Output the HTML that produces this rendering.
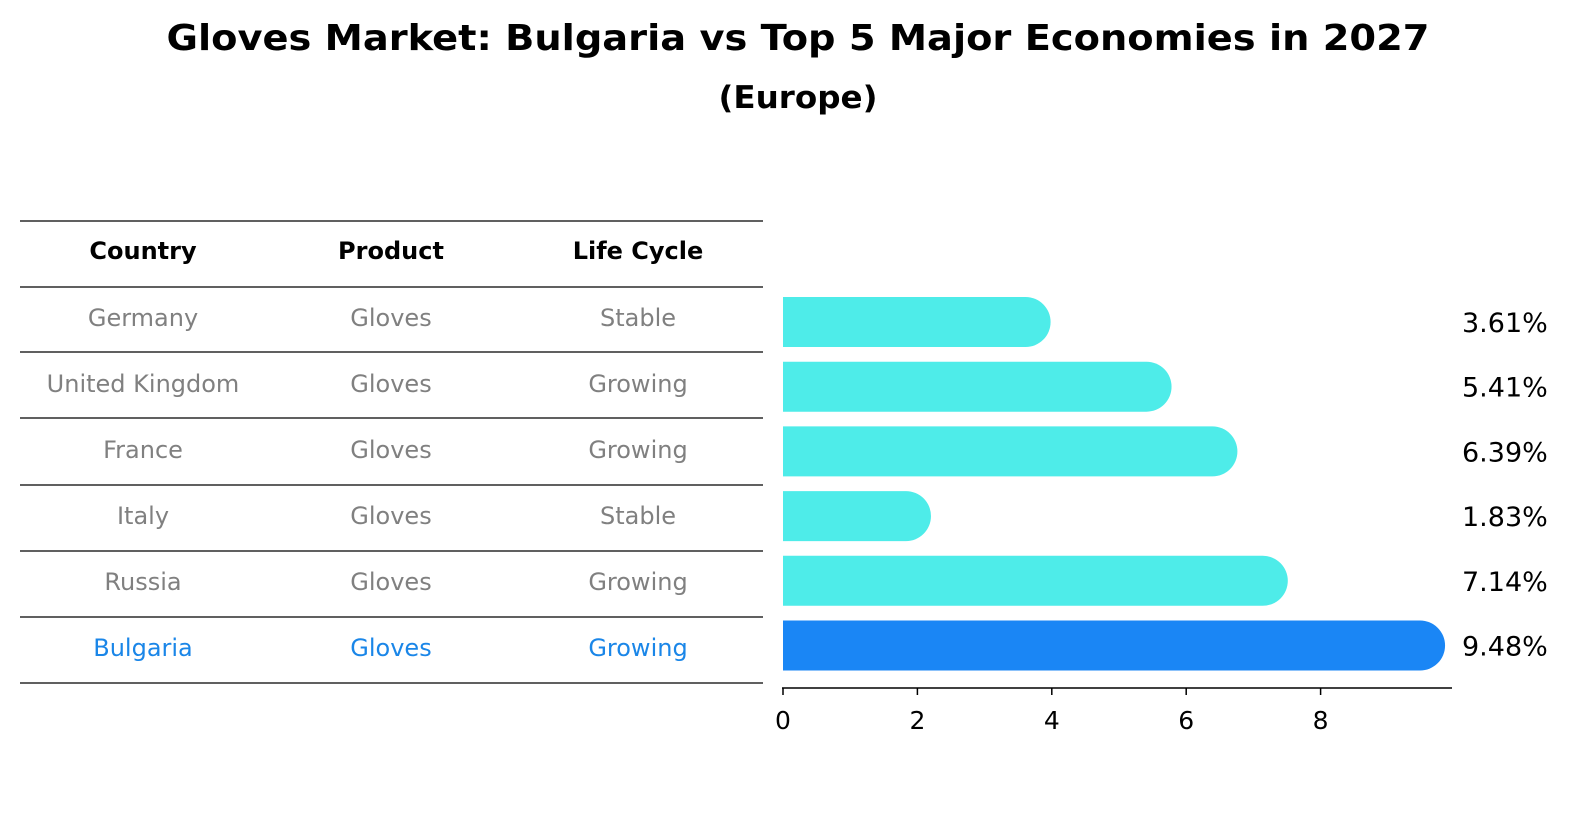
<!DOCTYPE html>
<html><head><meta charset="utf-8"><style>
body{margin:0;background:#fff;font-family:"DejaVu Sans","Liberation Sans",sans-serif;}
svg text{font-family:"DejaVu Sans","Liberation Sans",sans-serif;}
</style></head><body>
<svg id="c" width="1586" height="823" xmlns="http://www.w3.org/2000/svg">
<text x="798" y="50" text-anchor="middle" font-size="36" font-weight="bold" textLength="1263" lengthAdjust="spacingAndGlyphs">Gloves Market: Bulgaria vs Top 5 Major Economies in 2027</text>
<text x="798" y="108" text-anchor="middle" font-size="31" font-weight="bold" textLength="159" lengthAdjust="spacingAndGlyphs">(Europe)</text>
<g id="tbl"></g>
<g id="bars"></g>
</svg>
<script>
const countries=["Germany","United Kingdom","France","Italy","Russia","Bulgaria"];
const products=["Gloves","Gloves","Gloves","Gloves","Gloves","Gloves"];
const lifeCycles=["Stable","Growing","Growing","Stable","Growing","Growing"];
const values=[3.61,5.41,6.39,1.83,7.14,9.48];
const valueLabels=["3.61%","5.41%","6.39%","1.83%","7.14%","9.48%"];
const xTicks=[0,2,4,6,8];
const NS="http://www.w3.org/2000/svg";
function mk(t,a,p){const e=document.createElementNS(NS,t);for(const k in a)e.setAttribute(k,a[k]);p.appendChild(e);return e;}
const tbl=document.getElementById('tbl'),bars=document.getElementById('bars');
const x=v=>783+v*67.2;
const rowY=i=>322+i*64.7;
const colX=[143,391,638];
const hdr=["Country","Product","Life Cycle"];
hdr.forEach((h,j)=>{const t=mk('text',{x:colX[j],y:259,'text-anchor':'middle','font-size':24,'font-weight':'bold'},tbl);t.textContent=h;

});
const lines=[221,287,352,418,485,551,617,683];
lines.forEach((ly,i)=>{const l=mk('line',{x1:20,x2:763,y1:ly,y2:ly,stroke:'#000','stroke-width':1.2},tbl);

});
countries.forEach((c,i)=>{
 const col=i===countries.length-1?'#1a86e8':'#808080';
 const cy=[318,384,450,516,582,648][i];
 [c,products[i],lifeCycles[i]].forEach((s,j)=>{const t=mk('text',{x:colX[j],y:cy+8,'text-anchor':'middle','font-size':24,fill:col},tbl);t.textContent=s;
 
 });
 const y=rowY(i),h=50,r=25;
 const fill=i===countries.length-1?'#1a86f5':'#4eece9';
 const xe=x(values[i]);
 const p=mk('path',{d:`M${x(0)},${y-h/2} L${xe},${y-h/2} A${r},${r} 0 0 1 ${xe},${y+h/2} L${x(0)},${y+h/2} Z`,fill:fill},bars);
 
 
 const t=mk('text',{x:1462,y:y+10,'font-size':27},bars);t.textContent=valueLabels[i];
 
 
});
const ax=mk('line',{x1:782,x2:1452,y1:688,y2:688,stroke:'#000','stroke-width':1.5},bars);


xTicks.forEach(v=>{const l=mk('line',{x1:x(v),x2:x(v),y1:688,y2:695,stroke:'#000','stroke-width':1.5},bars);


const t=mk('text',{x:x(v),y:729,'text-anchor':'middle','font-size':25},bars);t.textContent=v;

});
</script>
</body></html>
